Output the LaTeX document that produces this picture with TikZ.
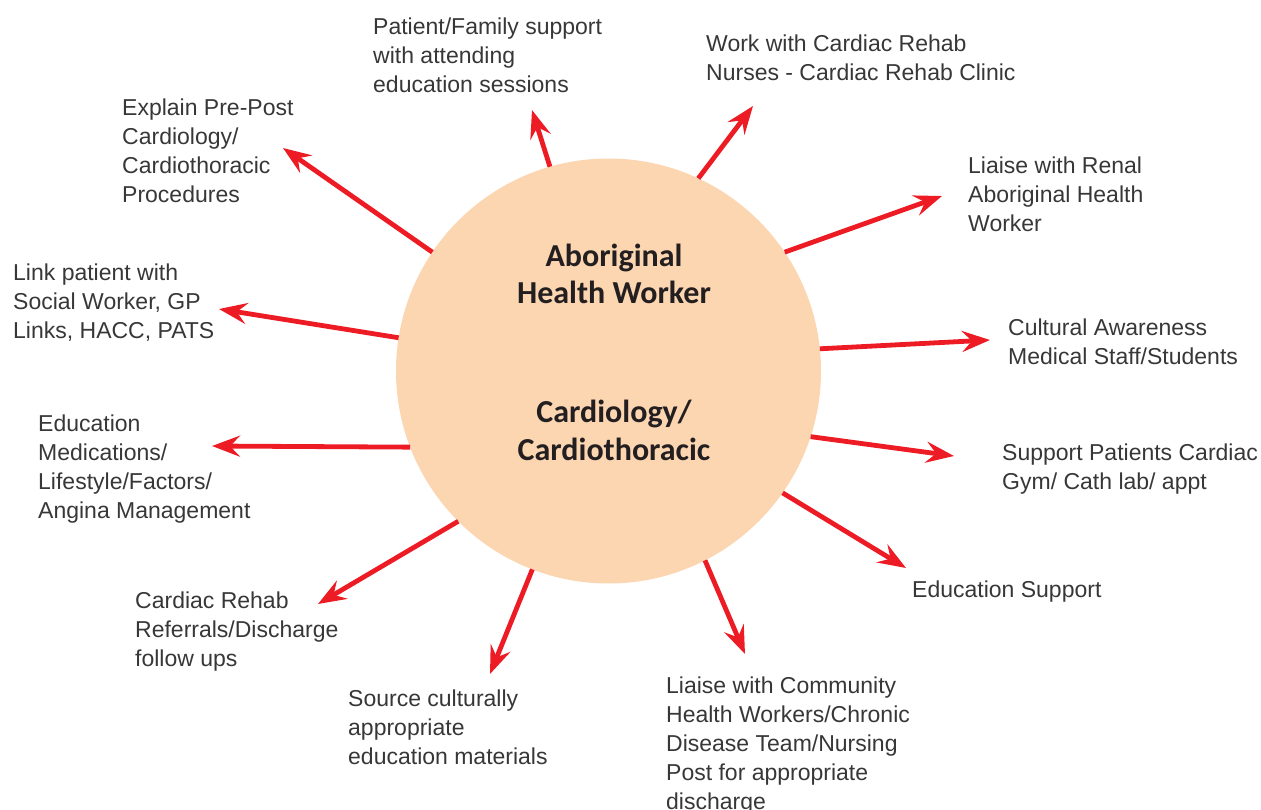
\documentclass[tikz,border=0pt]{standalone}
\usepackage{fontspec}
\setmainfont{Liberation Sans}
\newfontfamily\hubfont{Carlito}
\usetikzlibrary{arrows.meta}
\definecolor{arrowred}{RGB}{237,28,36}
\definecolor{peach}{RGB}{252,213,177}
\definecolor{labelgray}{RGB}{55,55,55}
\definecolor{hubtext}{RGB}{35,31,32}
\begin{document}
\begin{tikzpicture}[x=1pt,y=-1pt,
  hub/.style={circle,fill=peach,draw=none,minimum size=425pt,inner sep=0pt,outer sep=0pt},
  hubtitle/.style={anchor=base,align=center,inner sep=0pt,text=hubtext,
    font=\hubfont\bfseries\fontsize{32}{37.5}\selectfont},
  role/.style={anchor=base west,align=left,inner sep=0pt,text=labelgray,
    font=\fontsize{23}{29}\selectfont},
  link/.style={draw=arrowred,line width=4.8pt,
    -{Stealth[length=28pt,width=21pt,inset=10pt]}}]
\useasboundingbox (0,0) rectangle (1261,810);

% central circle and its two headings (positioned by the last line's baseline)
\node[hub] (hub) at (608.5,371) {};
\node[hubtitle] (t1) at (614,304) {Aboriginal\\Health Worker};
\node[hubtitle] (t2) at (614,460) {Cardiology/\\Cardiothoracic};

% surrounding roles (positioned by the last line's baseline)
\node[role] (l1) at (373,93) {Patient/Family support\\with attending\\education sessions};
\node[role] (l2) at (706,81) {Work with Cardiac Rehab\\Nurses - Cardiac Rehab Clinic};
\node[role] (l3) at (968,232) {Liaise with Renal\\Aboriginal Health\\Worker};
\node[role] (l4) at (1008,364) {Cultural Awareness\\Medical Staff/Students};
\node[role] (l5) at (1002,489) {Support Patients Cardiac\\Gym/ Cath lab/ appt};
\node[role] (l6) at (912,597) {Education Support};
\node[role] (l7) at (666,809) {Liaise with Community\\Health Workers/Chronic\\Disease Team/Nursing\\Post for appropriate\\discharge};
\node[role] (l8) at (348,764) {Source culturally\\appropriate\\education materials};
\node[role] (l9) at (135,666) {Cardiac Rehab\\Referrals/Discharge\\follow ups};
\node[role] (l10) at (38,518) {Education\\Medications/\\Lifestyle/Factors/\\Angina Management};
\node[role] (l11) at (13,338) {Link patient with\\Social Worker, GP\\Links, HACC, PATS};
\node[role] (l12) at (122,203) {Explain Pre-Post\\Cardiology/\\Cardiothoracic\\Procedures};

% arrow tips
\coordinate (e1) at (532,110);
\coordinate (e2) at (753,106);
\coordinate (e3) at (942,196);
\coordinate (e4) at (990,340);
\coordinate (e5) at (954,456);
\coordinate (e6) at (906,568);
\coordinate (e7) at (745,654);
\coordinate (e8) at (490,674);
\coordinate (e9) at (318,604);
\coordinate (e10) at (212,446);
\coordinate (e11) at (219,309);
\coordinate (e12) at (283,148);

% arrows radiating from the circle
\draw[link] (hub.106.4) -- (e1);
\draw[link] (hub.65) -- (e2);
\draw[link] (hub.34.8) -- (e3);
\draw[link] (hub.6.7) -- (e4);
\draw[link] (hub.-18.3) -- (e5);
\draw[link] (hub.-35) -- (e6);
\draw[link] (hub.-63.7) -- (e7);
\draw[link] (hub.-111.4) -- (e8);
\draw[link] (hub.-135.8) -- (e9);
\draw[link] (hub.-159.4) -- (e10);
\draw[link] (hub.171.8) -- (e11);
\draw[link] (hub.146.9) -- (e12);
\end{tikzpicture}
\end{document}
